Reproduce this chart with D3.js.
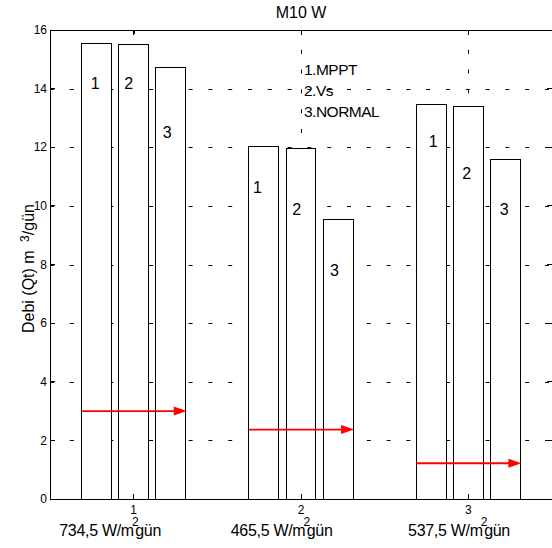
<!DOCTYPE html>
<html>
<head>
<meta charset="utf-8">
<script src="https://cdn.jsdelivr.net/npm/d3@7"></script>
<style>
  body { margin: 0; background: #fff; }
  svg text { font-family: Arial, "Liberation Sans", Helvetica, sans-serif; fill: #000; }
</style>
</head>
<body>
<svg class="m10w" width="552" height="548"></svg>
<script>
// chart values
var categories = [1, 2, 3];
var irradiance = ["734,5", "465,5", "537,5"];
var mppt = [15.55, 12.03, 13.45];
var vs = [15.50, 11.95, 13.38];
var normal = [14.73, 9.54, 11.57];
var arrowLevel = [3.0, 2.37, 1.22];
var yTicks = [0, 2, 4, 6, 8, 10, 12, 14, 16];
var legendLines = ["1.MPPT", "2.Vs", "3.NORMAL"];
var barNames = ["1", "2", "3"];
// where the 1/2/3 markers were typed in, data units
var barLabelX = [[0.77, 0.97, 1.2], [1.74, 1.975, 2.2], [2.79, 2.99, 3.215]];
var barLabelY = [[14.2, 14.2, 12.5], [10.65, 9.9, 7.8], [12.2, 11.1, 9.9]];
var irradianceX = [0.555, 1.58, 2.64];

var series = [mppt, vs, normal];
var offsets = [-0.2222, 0, 0.2222];
var barW = 0.1778;

var svg = d3.select("svg.m10w");
var pL = 50, pR = 552, pT = 30, pB = 499;

var x = d3.scaleLinear().domain([0.5, 3.5]).range([pL, pR]);
var y = d3.scaleLinear().domain([0, 16]).range([pB, pT]);

// dashed grid
svg.append("g").selectAll("line")
    .data(yTicks.filter(function(d){ return d > 0 && d < 16; }))
    .enter().append("line")
    .attr("x1", pL).attr("x2", pR)
    .attr("y1", function(d){ return Math.round(y(d)) + 0.5; })
    .attr("y2", function(d){ return Math.round(y(d)) + 0.5; })
    .attr("stroke", "#000").attr("stroke-width", 1)
    .attr("stroke-dasharray", "4,15.8");
svg.append("g").selectAll("line")
    .data(categories)
    .enter().append("line")
    .attr("x1", function(d){ return Math.round(x(d)) + 0.5; })
    .attr("x2", function(d){ return Math.round(x(d)) + 0.5; })
    .attr("y1", pT).attr("y2", pB)
    .attr("stroke", "#000").attr("stroke-width", 1)
    .attr("stroke-dasharray", "4,15.8");

// bars
var bars = [];
series.forEach(function(s, i){
    s.forEach(function(v, j){
        bars.push({cat: categories[j], val: v, k: i});
    });
});
svg.append("g").selectAll("rect")
    .data(bars)
    .enter().append("rect")
    .attr("x", function(d){ return x(d.cat + offsets[d.k] - barW / 2); })
    .attr("y", function(d){ return y(d.val); })
    .attr("width", function(d){ return x(barW) - x(0); })
    .attr("height", function(d){ return y(0) - y(d.val); })
    .attr("fill", "#fff")
    .attr("stroke", "#000")
    .attr("stroke-width", 1)
    .attr("shape-rendering", "crispEdges");

// axes box
svg.append("rect")
    .attr("x", pL).attr("y", pT)
    .attr("width", pR - pL).attr("height", pB - pT)
    .attr("fill", "none").attr("stroke", "#000").attr("stroke-width", 1)
    .attr("shape-rendering", "crispEdges");

// ticks pointing inward
yTicks.forEach(function(t){
    svg.append("line")
        .attr("x1", pL).attr("x2", pL + 5)
        .attr("y1", y(t)).attr("y2", y(t))
        .attr("stroke", "#000").attr("shape-rendering", "crispEdges");
    svg.append("line")
        .attr("x1", pR - 5).attr("x2", pR)
        .attr("y1", y(t)).attr("y2", y(t))
        .attr("stroke", "#000").attr("shape-rendering", "crispEdges");
    svg.append("text")
        .attr("x", 47).attr("y", y(t))
        .attr("dy", "0.35em")
        .attr("text-anchor", "end")
        .attr("font-size", 12)
        .text(t);
});
categories.forEach(function(c){
    svg.append("line")
        .attr("x1", x(c)).attr("x2", x(c))
        .attr("y1", pB).attr("y2", pB - 5)
        .attr("stroke", "#000").attr("shape-rendering", "crispEdges");
    svg.append("line")
        .attr("x1", x(c)).attr("x2", x(c))
        .attr("y1", pT).attr("y2", pT + 5)
        .attr("stroke", "#000").attr("shape-rendering", "crispEdges");
    svg.append("text")
        .attr("x", x(c)).attr("y", 514)
        .attr("text-anchor", "middle")
        .attr("font-size", 12)
        .text(c);
});

// red arrows across each group
arrowLevel.forEach(function(a, i){
    var x0 = x(categories[i] + offsets[0] - barW / 2);
    var x1 = x(categories[i] + offsets[2] + barW / 2);
    var ya = y(a);
    svg.append("line")
        .attr("x1", x0).attr("x2", x1 - 10)
        .attr("y1", ya).attr("y2", ya)
        .attr("stroke", "#ff0000").attr("stroke-width", 1.8);
    svg.append("polygon")
        .attr("points", [[x1 - 12, ya - 4.5], [x1 + 1, ya], [x1 - 12, ya + 4.5]].join(" "))
        .attr("fill", "#ff0000");
});

// 1/2/3 markers inside bars
barLabelX.forEach(function(row, i){
    row.forEach(function(lx, j){
        svg.append("text")
            .attr("x", x(lx)).attr("y", y(barLabelY[i][j]))
            .attr("dy", "0.36em")
            .attr("text-anchor", "middle")
            .attr("font-size", 16)
            .text(barNames[j]);
    });
});

// legend text
legendLines.forEach(function(t, i){
    svg.append("text")
        .attr("x", 304).attr("y", 75 + i * 21)
        .attr("font-size", 15.5)
        .attr("letter-spacing", -0.5)
        .text(t);
});

// irradiance labels under the groups
irradiance.forEach(function(t, i){
    var lab = svg.append("text")
        .attr("x", x(irradianceX[i])).attr("y", 536)
        .attr("font-size", 16)
        .attr("letter-spacing", -0.3);
    lab.append("tspan").text(t + " W/m");
    lab.append("tspan").attr("font-size", 12).attr("dx", -2).attr("dy", -10).text("2");
    lab.append("tspan").attr("dx", -3).attr("dy", 10).text("gün");
});

// title
svg.append("text")
    .attr("x", 301).attr("y", 18)
    .attr("text-anchor", "middle")
    .attr("font-size", 16)
    .text("M10 W");

// y axis label
var yl = svg.append("text")
    .attr("transform", "translate(34,333) rotate(-90)")
    .attr("font-size", 16);
yl.append("tspan").text("Debi (Qt) m ");
yl.append("tspan").attr("font-size", 12).attr("dx", 4).attr("dy", -5).text("3");
yl.append("tspan").attr("dy", 5).text("/gün");
</script>
</body>
</html>
